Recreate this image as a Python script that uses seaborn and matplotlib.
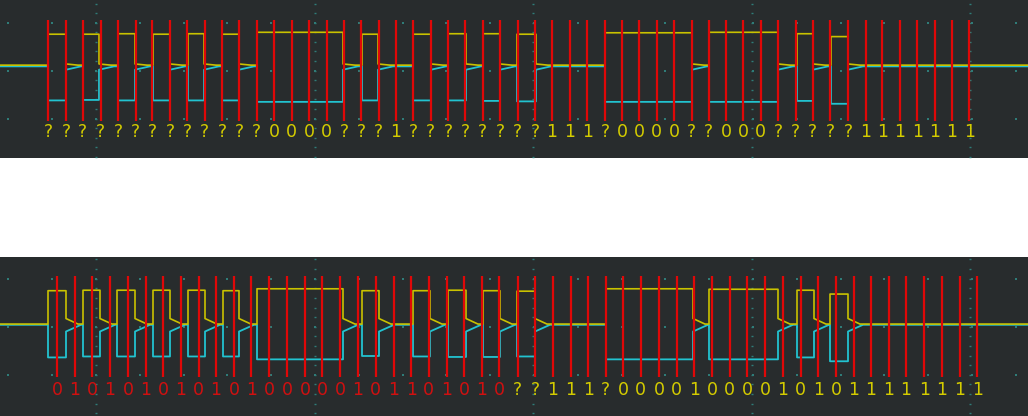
import matplotlib
matplotlib.use('Agg')
import numpy as np
import matplotlib.pyplot as plt
import seaborn as sns
import pandas as pd

# pulse edges (time axis in screen samples) read from the capture
top_rise = [48, 83, 118, 153, 188, 222, 257, 362, 413, 448, 483, 517, 605, 709, 797, 831]
top_fall = [66, 99, 135, 170, 204, 239, 343, 378, 431, 466, 500, 536, 692, 778, 813, 848]
bot_rise = [48, 83, 117, 153, 188, 223, 257, 362, 413, 448, 483, 517, 606, 709, 797, 830]
bot_fall = [66, 100, 135, 170, 205, 239, 343, 379, 430, 466, 500, 535, 693, 778, 814, 848]

# levels during each pulse (divisions from the centre graticule line)
top_yel_hi = [0.76, 0.76, 0.77, 0.76, 0.77, 0.76, 0.80, 0.76, 0.76, 0.77, 0.77, 0.76, 0.79, 0.80, 0.77, 0.71]
top_cyn_lo = [-0.62, -0.61, -0.62, -0.62, -0.62, -0.62, -0.65, -0.62, -0.62, -0.62, -0.63, -0.64, -0.65, -0.65, -0.63, -0.69]
bot_yel_hi = [0.75, 0.76, 0.76, 0.76, 0.76, 0.75, 0.79, 0.75, 0.75, 0.76, 0.75, 0.74, 0.79, 0.78, 0.76, 0.68]
bot_cyn_lo = [-0.64, -0.62, -0.62, -0.62, -0.62, -0.62, -0.68, -0.61, -0.62, -0.63, -0.63, -0.62, -0.68, -0.68, -0.64, -0.72]

# sample points (red markers) and decoded bits
top_samples = [48.3, 66, 82.7, 100.7, 118, 135.7, 152.3, 170, 187.3, 204.7, 222, 239.3, 256.7,
               274.3, 291.7, 309.3, 326.7, 344, 361.3, 378.7, 396, 413.3, 430.7, 448.3, 465,
               482.7, 500, 517.5, 535.3, 552, 570, 587.3, 605, 622, 639.3, 656.7, 674, 691.7,
               708.7, 726, 743.3, 760.7, 778.3, 795.7, 812.7, 830, 848.3, 865.7, 882.3, 900,
               917.3, 934.7, 952, 969.3]
top_bits = list("?????????????0000???1????????111?0000??000?????1111111")

bot_samples = [57.3, 74.7, 92.3, 110, 128.3, 145.7, 163.3, 181, 198.7, 216, 234, 251.3, 269.3,
               287.3, 305, 322.3, 340, 357.7, 375.7, 394, 411.3, 428.7, 446.7, 464, 482, 499.3,
               517.5, 535.3, 552.7, 570.7, 588.3, 605.7, 623.3, 640.7, 659, 676.7, 694.3, 712,
               729.7, 747, 765, 783, 800.7, 818.3, 836, 853.7, 871, 888.7, 906, 924.3, 942, 960,
               977.3]
bot_bits = list("01010101010100000101101010" + "??111?000010000101011111111")
bot_decoded = 26  # first bits decoded (drawn red)

BG = '#282c2d'
YEL = '#c9c200'
CYN = '#22c3d0'
RED = '#e00808'
GRID = '#2f7c78'
W = 1028


def build_trace(rise, fall, hi, post, base, settle):
    t, v = [0.0], [base]
    for i, (r, f) in enumerate(zip(rise, fall)):
        t += [r, r, f, f]
        v += [v[-1], hi[i], hi[i], post]
        nxt = rise[i + 1] if i + 1 < len(rise) else W
        t.append(min(f + settle, nxt))
        v.append(base)
    t.append(W)
    v.append(base)
    return pd.DataFrame({'t': t, 'v': v})


sns.set_style('dark', {'axes.facecolor': BG})

fig = plt.figure(figsize=(10.28, 4.16), dpi=100, facecolor='white')
ax_top = fig.add_axes([0, 258 / 416, 1, 158 / 416])
ax_bot = fig.add_axes([0, 0, 1, 159 / 416])


def draw_panel(ax, ylim, rise, fall, yel_hi, cyn_lo, ybase, cbase, ypost, cpost,
               samples, bits, colors, label_y):
    ax.set_facecolor(BG)
    # graticule
    for x in [96, 315, 533, 752, 970]:
        ys = np.arange(-1.8, 1.5, 0.2)
        ax.scatter(np.full(len(ys), x), ys, marker='_', s=4, color=GRID, lw=1, zorder=1)
    cols = np.arange(96 - 2 * 43.8, W, 43.8)
    for row in [-1, 0, 1]:
        ax.scatter(cols, np.full(len(cols), row), marker='s', s=1.2, color=GRID, lw=0, zorder=1)

    yel = build_trace(rise, fall, yel_hi, ypost, ybase, 12)
    cyn = build_trace(rise, fall, cyn_lo, cpost, cbase, 15)
    sns.lineplot(data=cyn, x='t', y='v', estimator=None, sort=False, color=CYN, lw=1.3, ax=ax, zorder=2)
    sns.lineplot(data=yel, x='t', y='v', estimator=None, sort=False, color=YEL, lw=1.2, ax=ax, zorder=3)

    ax.vlines(samples, -1.05, 1.05, color=RED, lw=1.6, zorder=4)
    for x, b, c in zip(samples, bits, colors):
        ax.text(x, label_y, b, color=c, fontsize=12.5, ha='center', va='center', zorder=5)

    ax.set_xlim(0, W)
    ax.set_ylim(*ylim)
    ax.set_xlabel('')
    ax.set_ylabel('')
    ax.set_xticks([])
    ax.set_yticks([])
    for s in ax.spines.values():
        s.set_visible(False)


draw_panel(ax_top, (-1.82, 1.473), top_rise, top_fall, top_yel_hi, top_cyn_lo,
           0.115, 0.09, 0.14, 0.02, top_samples, top_bits, ['#d4cc00'] * len(top_bits), -1.27)
bot_colors = ['#d01010'] * bot_decoded + ['#d4cc00'] * (len(bot_bits) - bot_decoded)
draw_panel(ax_bot, (-1.86, 1.452), bot_rise, bot_fall, bot_yel_hi, bot_cyn_lo,
           0.055, 0.04, 0.17, -0.10, bot_samples, bot_bits, bot_colors, -1.32)

fig.savefig('out.png', dpi=100, facecolor='white')
